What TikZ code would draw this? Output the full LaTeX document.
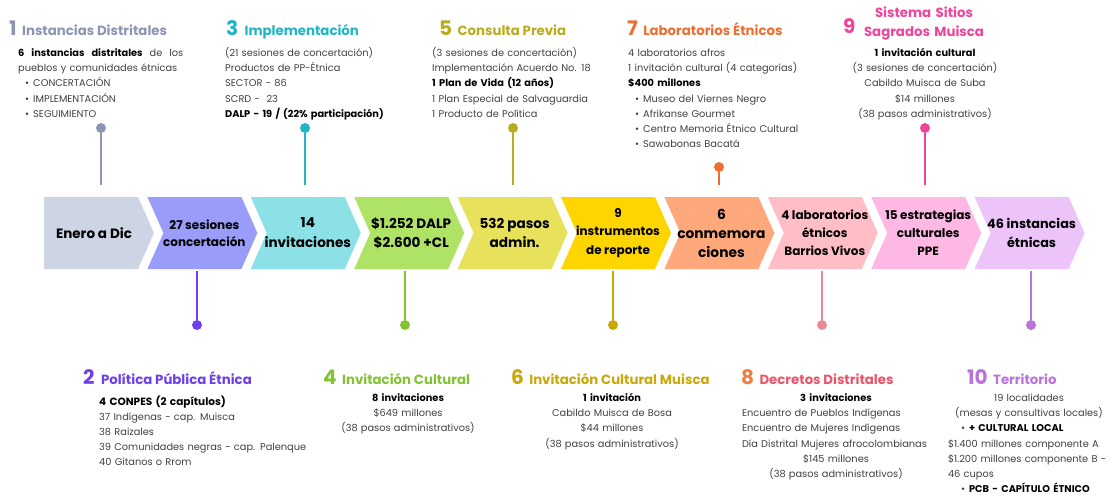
\documentclass[tikz,border=0pt]{standalone}
\usepackage{fontspec}
\setmainfont{Poppins}
\usetikzlibrary{positioning,calc}

\definecolor{ch1}{HTML}{CDD4E4}
\definecolor{ch2}{HTML}{9A9CFA}
\definecolor{ch3}{HTML}{8BE1E6}
\definecolor{ch4}{HTML}{AEE366}
\definecolor{ch5}{HTML}{E7E15C}
\definecolor{ch6}{HTML}{FFD500}
\definecolor{ch7}{HTML}{FEA87C}
\definecolor{ch8}{HTML}{FFBEC6}
\definecolor{ch9}{HTML}{FEB8E4}
\definecolor{ch10}{HTML}{ECC4FA}
\definecolor{c1}{HTML}{8C95B2}
\definecolor{c2}{HTML}{6E3FEA}
\definecolor{c3}{HTML}{1FB5C4}
\definecolor{c4}{HTML}{84C235}
\definecolor{c5}{HTML}{B9AC1E}
\definecolor{c6}{HTML}{C9A80A}
\definecolor{c7}{HTML}{EC6E32}
\definecolor{c8}{HTML}{E98A98}
\definecolor{c8t}{HTML}{E8566C}
\definecolor{c8n}{HTML}{F47C3C}
\definecolor{c9}{HTML}{EE449C}
\definecolor{c10}{HTML}{BA72DC}
\definecolor{txt}{HTML}{404040}

\begin{document}
\begin{tikzpicture}[x=1pt, y=-1pt,
    stage/.style={
        inner sep=0pt,
        align=center,
        minimum height=72pt,
        text=black
    },
    num/.style={
        inner sep=0pt,
        anchor=base west,
        font=\bfseries\fontsize{20}{20}\selectfont
    },
    ttl/.style={
        inner sep=0pt,
        font=\bfseries\fontsize{13.3}{19}\selectfont
    },
    body/.style={
        inner sep=0pt,
        text=txt,
        font=\fontsize{9.8}{15.2}\selectfont
    },
    dot/.style={
        circle,
        inner sep=0pt,
        minimum size=10pt
    },
    pin/.style={
        line width=2pt
    }
    ]
    \useasboundingbox (0,0) rectangle (1114,495);

    \fill[ch1] (44,197) -- (138,197) -- (154,233) -- (138,269) -- (44,269) -- cycle;
    \foreach \x/\col in {147.4/ch2, 250.8/ch3, 354.2/ch4, 457.6/ch5, 561/ch6, 664.4/ch7, 767.8/ch8, 871.2/ch9, 974.6/ch10}
        \fill[\col] (\x,197) -- ++(94,0) -- ++(16,36) -- ++(-16,36) -- ++(-94,0) -- ++(16,-36) -- cycle;

    \node[stage, font=\bfseries\fontsize{13.5}{19}\selectfont] (s1) at (94,233) {Enero a Dic};
    \node[stage, font=\bfseries\fontsize{12}{17.5}\selectfont] (s2) at (204.4,233) {27 sesiones\\concertación};
    \node[stage, font=\bfseries\fontsize{13.6}{20}\selectfont] (s3) at (307.8,233) {14\\invitaciones};
    \node[stage, font=\bfseries\fontsize{13.6}{19.5}\selectfont] (s4) at (411.2,233) {\$1.252 DALP\\\$2.600 +CL};
    \node[stage, font=\bfseries\fontsize{13.6}{19.5}\selectfont] (s5) at (514.6,233) {532 pasos\\admin.};
    \node[stage, font=\bfseries\fontsize{12}{18.5}\selectfont] (s6) at (618,233) {9\\instrumentos\\de reporte};
    \node[stage, font=\bfseries\fontsize{13.8}{19}\selectfont] (s7) at (721.4,233) {6\\conmemora\\ciones};
    \node[stage, font=\bfseries\fontsize{12}{18}\selectfont] (s8) at (824.8,233) {4 laboratorios\\étnicos\\Barrios Vivos};
    \node[stage, font=\bfseries\fontsize{12}{18}\selectfont] (s9) at (928.2,233) {15 estrategias\\culturales\\PPE};
    \node[stage, font=\bfseries\fontsize{12.8}{19}\selectfont] (s10) at (1031.6,233) {46 instancias\\étnicas};

    \node[dot, fill=c1] (d1) at (101,128) {};
    \draw[pin, c1] (d1) -- ($(d1 |- s1.north)+(0,-12)$);
    \node[dot, fill=c3] (d3) at (305,128) {};
    \draw[pin, c3] (d3) -- ($(d3 |- s3.north)+(0,-12)$);
    \node[dot, fill=c5] (d5) at (513,128) {};
    \draw[pin, c5] (d5) -- ($(d5 |- s5.north)+(0,-12)$);
    \node[dot, fill=c7] (d7) at (719,167) {};
    \draw[pin, c7] (d7) -- ($(d7 |- s7.north)+(0,-12)$);
    \node[dot, fill=c9] (d9) at (925,128) {};
    \draw[pin, c9] (d9) -- ($(d9 |- s9.north)+(0,-12)$);

    \node[dot, fill=c2] (d2) at (197,325) {};
    \draw[pin, c2] (d2) -- ($(d2 |- s2.south)+(0,2)$);
    \node[dot, fill=c4] (d4) at (405,325) {};
    \draw[pin, c4] (d4) -- ($(d4 |- s4.south)+(0,2)$);
    \node[dot, fill=c6] (d6) at (613,325) {};
    \draw[pin, c6] (d6) -- ($(d6 |- s6.south)+(0,2)$);
    \node[dot, fill=c8] (d8) at (822,325) {};
    \draw[pin, c8] (d8) -- ($(d8 |- s8.south)+(0,2)$);
    \node[dot, fill=c10] (d10) at (1031,325) {};
    \draw[pin, c10] (d10) -- ($(d10 |- s10.south)+(0,2)$);

    \node[num, text=c1] (n1) at (9,36) {1};
    \node[ttl, text=c1, base right=5pt of n1] (t1) {Instancias Distritales};
    \node[body, anchor=base west, text width=200pt, align=left] (b1) at (18,56.5) {\hbox to 165pt{\textbf{\color{black}6}\hfill\textbf{\color{black}instancias}\hfill\textbf{\color{black}distritales}\hfill de\hfill los}\\pueblos y comunidades étnicas\\\hspace*{7pt}\textbullet\hspace{4pt}CONCERTACIÓN\\\hspace*{7pt}\textbullet\hspace{4pt}IMPLEMENTACIÓN\\\hspace*{7pt}\textbullet\hspace{4pt}SEGUIMIENTO};

    \node[num, text=c3] (n3) at (226,36) {3};
    \node[ttl, text=c3, base right=6pt of n3] (t3) {Implementación};
    \node[body, anchor=base west, text width=200pt, align=left] (b3) at (225,56.5) {(21 sesiones de concertación)\\Productos de PP-Étnica\\SECTOR - 86\\SCRD -\ \ 23\\\textbf{\color{black}DALP - 19 / (22\% participación)}};

    \node[num, text=c5] (n5) at (439,36) {5};
    \node[ttl, text=c5, base right=5pt of n5] (t5) {Consulta Previa};
    \node[body, anchor=base west, text width=200pt, align=left] (b5) at (432,56.5) {(3 sesiones de concertación)\\Implementación Acuerdo No. 18\\\textbf{\color{black}1 Plan de Vida (12 años)}\\1 Plan Especial de Salvaguardia\\1 Producto de Política};

    \node[num, text=c7] (n7) at (627,36) {7};
    \node[ttl, text=c7, base right=5pt of n7] (t7) {Laboratorios Étnicos};
    \node[body, anchor=base west, text width=200pt, align=left] (b7) at (628,56.5) {4 laboratorios afros\\1 invitación cultural (4 categorías)\\\textbf{\color{black}\$400 millones}\\\hspace*{7pt}\textbullet\hspace{4pt}Museo del Viernes Negro\\\hspace*{7pt}\textbullet\hspace{4pt}Afrikanse Gourmet\\\hspace*{7pt}\textbullet\hspace{4pt}Centro Memoria Étnico Cultural\\\hspace*{7pt}\textbullet\hspace{4pt}Sawabonas Bacatá};

    \node[num, text=c9] (n9) at (843,34) {9};
    \node[ttl, text=c9, text width=160pt, align=center, anchor=base] (t9) at (924,18) {Sistema Sitios\\Sagrados Muisca};
    \node[body, anchor=base, text width=170pt, align=center] (b9) at (925,56.5) {\textbf{\color{black}1 invitación cultural}\\(3 sesiones de concertación)\\Cabildo Muisca de Suba\\\$14 millones\\(38 pasos administrativos)};

    \node[num, text=c2] (n2) at (83,384) {2};
    \node[ttl, text=c2, base right=6pt of n2] (t2) {Política Pública Étnica};
    \node[body, anchor=base west, text width=220pt, align=left] (b2) at (99,405) {{\bfseries\color{black}\fontsize{10.5}{15}\selectfont 4 CONPES (2 capítulos)}\\37 Indígenas - cap. Muisca\\38 Raizales\\39 Comunidades negras - cap. Palenque\\40 Gitanos o Rrom};

    \node[num, text=c4] (n4) at (323,384) {4};
    \node[ttl, text=c4, base right=5pt of n4] (t4) {Invitación Cultural};
    \node[body, anchor=base, text width=170pt, align=center] (b4) at (408,401.5) {\textbf{\color{black}8 invitaciones}\\\$649 millones\\(38 pasos administrativos)};

    \node[num, text=c6] (n6) at (511,384) {6};
    \node[ttl, text=c6, base right=5pt of n6] (t6) {Invitación Cultural Muisca};
    \node[body, anchor=base, text width=170pt, align=center] (b6) at (612,401.5) {\textbf{\color{black}1 invitación}\\Cabildo Muisca de Bosa\\\$44 millones\\(38 pasos administrativos)};

    \node[num, text=c8n] (n8) at (741,384) {8};
    \node[ttl, text=c8t, base right=5pt of n8] (t8) {Decretos Distritales};
    \node[body, anchor=base, text width=188pt, align=center] (b8) at (836,401.5) {\textbf{\color{black}3 invitaciones}\\\makebox[188pt][l]{Encuentro de Pueblos Indígenas}\\\makebox[188pt][l]{Encuentro de Mujeres Indígenas}\\\makebox[188pt][l]{Día Distrital Mujeres afrocolombianas}\\\$145 millones\\(38 pasos administrativos)};

    \node[num, text=c10] (n10) at (967,384) {10};
    \node[ttl, text=c10, base right=5pt of n10] (t10) {Territorio};
    \node[body, anchor=base, text width=162pt, align=center] (b10) at (1029,401.5) {19 localidades\\(mesas y consultivas locales)\\\makebox[162pt][l]{\hspace*{13pt}\textbullet\hspace{4pt}\textbf{\color{black}+ CULTURAL LOCAL}}\\\makebox[162pt][l]{\$1.400 millones componente A}\\\makebox[162pt][l]{\$1.200 millones componente B -}\\\makebox[162pt][l]{46 cupos}\\\makebox[162pt][l]{\hspace*{13pt}\textbullet\hspace{4pt}\textbf{\color{black}PCB - CAPÍTULO ÉTNICO}}};
\end{tikzpicture}
\end{document}
